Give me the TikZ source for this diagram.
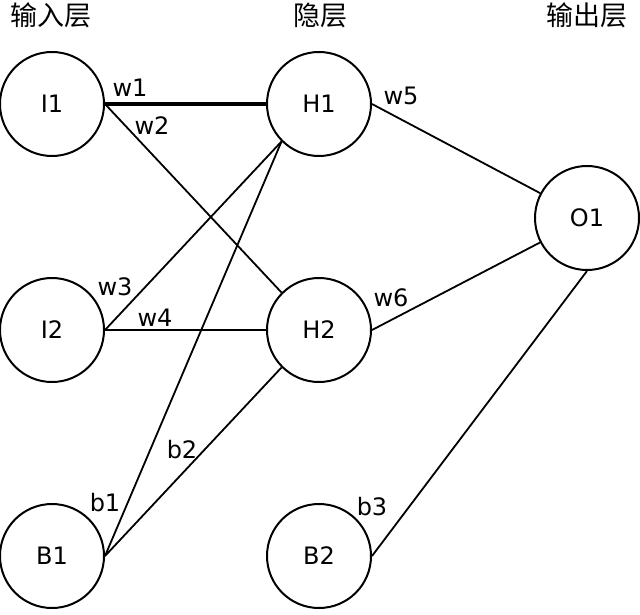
\documentclass[tikz,border=0pt]{standalone}
\usepackage{fontspec}
\setmainfont{DejaVu Sans}
\newfontfamily\cjk{Noto Sans CJK SC}
\usetikzlibrary{shapes.geometric}
\begin{document}
\begin{tikzpicture}[x=0.5pt,y=-0.5pt,
  neuron/.style={draw, ellipse, line width=1pt, minimum width=52pt, minimum height=52pt, inner sep=0pt, font=\fontsize{12}{14}\selectfont},
  conn/.style={line width=0.9pt},
  thickconn/.style={line width=1.6pt},
  lbl/.style={font=\fontsize{12}{14}\selectfont, inner sep=0pt},
  ttl/.style={font=\cjk\fontsize{13.5}{15}\selectfont, inner sep=0pt}]
\useasboundingbox (0,0) rectangle (640,614);
\fill[white] (0,0) rectangle (640,614);
% titles
\node[ttl] (t1) at (51,15) {输入层};
\node[ttl] (t2) at (320,15) {隐层};
\node[ttl] (t3) at (587,15) {输出层};
% neurons
\node[neuron] (I1) at (52,104) {I1};
\node[neuron] (I2) at (52,330) {I2};
\node[neuron] (B1) at (52,556) {B1};
\node[neuron] (H1) at (319,104) {H1};
\node[neuron] (H2) at (319,330) {H2};
\node[neuron] (B2) at (319,556) {B2};
\node[neuron] (O1) at (587,218) {O1};
% connectors
\draw[thickconn] (I1.east) -- (H1.west);
\draw[conn] (I1.east) -- (H2.north west);
\draw[conn] (I2.east) -- (H1.south west);
\draw[conn] (I2.east) -- (H2.west);
\draw[conn] (B1.east) -- (H1.south west);
\draw[conn] (B1.east) -- (H2.south west);
\draw[conn] (H1.east) -- (O1);
\draw[conn] (H2.east) -- (O1);
\draw[conn] (B2.east) -- (O1.south);
% weight labels
\node[lbl] (w1) at (130,88) {w1};
\node[lbl] (w2) at (152,126) {w2};
\node[lbl] (w3) at (115,287) {w3};
\node[lbl] (w4) at (155,318) {w4};
\node[lbl] (w5) at (401,96) {w5};
\node[lbl] (w6) at (391,298) {w6};
\node[lbl] (b1) at (105,503) {b1};
\node[lbl] (b2) at (182,450) {b2};
\node[lbl] (b3) at (372,507) {b3};
\end{tikzpicture}
\end{document}
